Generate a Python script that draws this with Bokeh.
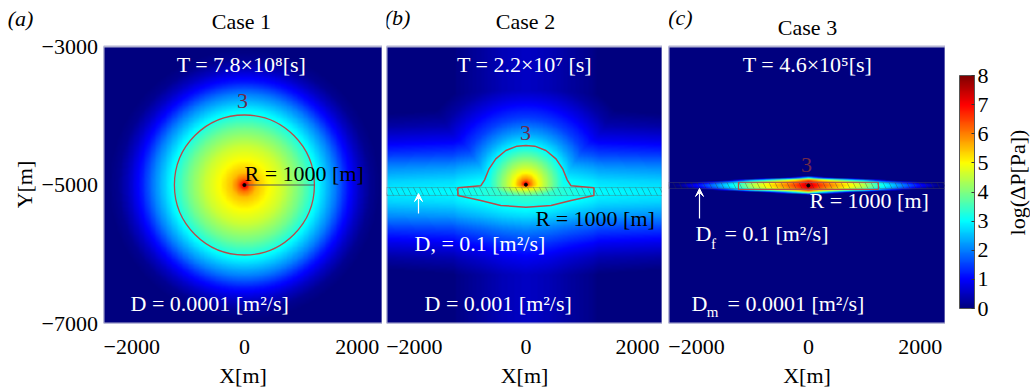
import numpy as np
from bokeh.plotting import figure
from bokeh.layouts import row
from bokeh.models import (Range1d, FixedTicker, LinearColorMapper, Label, Arrow, VeeHead, ColorBar)
from bokeh.embed import file_html
from bokeh.resources import INLINE

FONT = "Liberation Serif"
FS = "22px"

# ---------------- data ----------------
x_ticks = [-2000, 0, 2000]
x_tick_labels = ["−2000", "0", "2000"]
y_ticks = [-7000, -5000, -3000]
y_tick_labels = ["−7000", "−5000", "−3000"]
cbar_ticks = [0, 1, 2, 3, 4, 5, 6, 7, 8]
cbar_tick_labels = ["0", "1", "2", "3", "4", "5", "6", "7", "8"]

x_lim = [-2500, 2450]
y_lim = [-7000, -3000]
level_lim = [0, 8]

case_titles = ["Case 1", "Case 2", "Case 3"]
panel_tags = ["(a)", "(b)", "(c)"]
time_texts = ["T = 7.8×10⁸[s]", "T = 2.2×10⁷ [s]", "T = 4.6×10⁵[s]"]
contour_level_text = "3"
radius_text = "R = 1000 [m]"

source_x = [0, 0, 0]
source_y = [-5000, -4995, -5007]

# Case 1: radial profile of log(dP) (distance in units of the level-3 contour radius)
c1_rx, c1_ry = 1242, 1011
c1_r = [0.0, 0.03, 0.08, 0.18, 0.35, 0.55, 0.8, 1.0, 1.15, 1.3, 1.47, 1.65, 1.8, 1.95]
c1_lev = [8.0, 7.0, 6.2, 5.5, 5.0, 4.6, 3.9, 3.2, 2.6, 2.0, 1.2, 0.55, 0.15, 0.0]

# Case 2: matrix dome around the source + fault band
c2_src_sx, c2_src_sy_up, c2_src_sy_dn = 700, 563, 200
c2_src_r = [0.0, 0.04, 0.12, 0.3, 0.5, 0.75, 1.0, 1.3, 1.7, 2.2, 2.6, 3.0]
c2_src_lev = [8.0, 7.0, 6.0, 5.0, 4.4, 3.7, 3.0, 2.3, 1.5, 0.8, 0.3, 0.0]
c2_fault_y = -5100
c2_fx = [0, 400, 810, 1220, 1300, 2500]
c2_flev = [3.55, 3.45, 3.25, 3.08, 3.0, 2.9]
c2_dy = [0, 150, 350, 550, 750, 950, 1200]
c2_drop = [0.0, 0.25, 0.8, 1.5, 2.1, 2.6, 3.0]
c2_band = [-5152, -5036]
c2_contour_x = [-1220, -810, -740, -660, -540, -360, -160, 0, 160, 360, 540, 660, 740, 810, 1220,
                1220, 810, 450, 0, -450, -810, -1220]
c2_contour_y = [-5041, -5012, -4925, -4766, -4622, -4502, -4439, -4430, -4439, -4502, -4622, -4766, -4925, -5012, -5041,
                -5152, -5224, -5296, -5320, -5296, -5224, -5152]

# Case 3: thin fault only
c3_fault_y = -5007
c3_fx = [0, 200, 400, 700, 1000, 1300, 1700, 2000, 2300, 2500]
c3_flev = [7.5, 6.6, 6.0, 5.2, 4.5, 3.3, 2.0, 1.1, 0.3, 0.0]
c3_dy = [0, 40, 75, 105, 140]
c3_drop = [0.0, 0.3, 1.2, 3.5, 8.0]
c3_thickness = [1.0, 0.6]
c3_band = [-5050, -4964]
c3_contour = [-1250, 1250, -5065, -4960]

# ---------------- fields ----------------
nx, ny = 330, 440
gx = np.linspace(x_lim[0], x_lim[1], nx)
gy = np.linspace(y_lim[0], y_lim[1], ny)
X, Y = np.meshgrid(gx, gy)

r1 = np.sqrt((X / c1_rx) ** 2 + ((Y - source_y[0]) / c1_ry) ** 2)
Z1 = np.interp(r1, c1_r, c1_lev)

sy2 = np.where(Y > source_y[1], c2_src_sy_up, c2_src_sy_dn)
r2 = np.sqrt((X / c2_src_sx) ** 2 + ((Y - source_y[1]) / sy2) ** 2)
S2 = np.interp(r2, c2_src_r, c2_src_lev)
L2 = np.interp(np.abs(X), c2_fx, c2_flev) - np.interp(np.abs(Y - c2_fault_y), c2_dy, c2_drop)
Z2 = np.clip(np.maximum(S2, L2), 0, 8)

w3 = np.interp(np.abs(X), [0, x_lim[1]], c3_thickness)
Z3 = np.interp(np.abs(X), c3_fx, c3_flev) - np.interp(np.abs(Y - c3_fault_y) / w3, c3_dy, c3_drop)
Z3 = np.clip(Z3, 0, 8)

fields = [Z1.astype(np.float32), Z2.astype(np.float32), Z3.astype(np.float32)]

# jet palette
t = np.linspace(0, 1, 256)
jr = np.clip(1.5 - np.abs(4 * t - 3), 0, 1)
jg = np.clip(1.5 - np.abs(4 * t - 2), 0, 1)
jb = np.clip(1.5 - np.abs(4 * t - 1), 0, 1)
jet = ["#%02x%02x%02x" % (int(a * 255), int(b * 255), int(c * 255)) for a, b, c in zip(jr, jg, jb)]
mapper = LinearColorMapper(palette=jet, low=level_lim[0], high=level_lim[1])

CONTOUR = "#b84a4a"
LEVELTXT = "#6e2a4c"

# layout geometry: the panel box (-3000) sits 46 px below the top of each frame
FRAME_H = 323
TOP_PAD = 46
BOX_H = 277
y_view = [y_lim[0], y_lim[1] + TOP_PAD * (y_lim[1] - y_lim[0]) / BOX_H]


def lab(p, x, y, text, color="white", align="left", size=FS, style="normal", angle=0):
    p.add_layout(Label(x=x, y=y, text=text, text_font=FONT, text_font_size=size,
                       text_color=color, text_align=align, text_baseline="middle",
                       text_font_style=style, angle=angle))


def base_fig(frame_w, left_border, right_border, x_range, **kw):
    p = figure(frame_width=frame_w, frame_height=FRAME_H, x_range=x_range,
               y_range=Range1d(y_view[0], y_view[1]),
               min_border_left=left_border, min_border_right=right_border,
               min_border_top=0, min_border_bottom=66,
               toolbar_location=None, output_backend="svg", title=None, **kw)
    p.xgrid.visible = False
    p.ygrid.visible = False
    p.outline_line_color = None
    p.background_fill_color = "white"
    p.border_fill_color = "white"
    return p


def style_axis(ax):
    ax.axis_line_color = None
    ax.major_tick_line_color = None
    ax.minor_tick_line_color = None
    ax.major_tick_out = 0
    ax.major_tick_in = 0
    ax.major_label_text_font = FONT
    ax.major_label_text_font_size = FS
    ax.major_label_text_color = "black"
    ax.axis_label_text_font = FONT
    ax.axis_label_text_font_size = FS
    ax.axis_label_text_font_style = "normal"
    ax.axis_label_text_color = "black"


def make_panel(frame_w, left_border, i):
    p = base_fig(frame_w, left_border, 0, Range1d(x_lim[0], x_lim[1]),
                 y_axis_location=None)
    p.image(image=[fields[i]], x=x_lim[0], y=y_lim[0], dw=x_lim[1] - x_lim[0], dh=y_lim[1] - y_lim[0],
            color_mapper=mapper)
    p.quad(left=[x_lim[0]], right=[x_lim[1]], bottom=[y_lim[0]], top=[y_lim[1]],
           fill_color=None, line_color="#b4b4d4", line_width=2)
    xa = p.xaxis[0]
    style_axis(xa)
    xa.ticker = FixedTicker(ticks=x_ticks)
    xa.major_label_overrides = dict(zip(x_ticks, x_tick_labels))
    xa.axis_label = "X[m]"
    xa.major_label_standoff = 16
    xa.axis_label_standoff = 6
    return p


# ----- y-axis strip -----
p0 = base_fig(38, 0, 60, Range1d(0, 38), x_axis_location=None, y_axis_location="right")
ya0 = p0.yaxis[0]
style_axis(ya0)
ya0.ticker = FixedTicker(ticks=y_ticks)
ya0.major_label_overrides = dict(zip(y_ticks, y_tick_labels))
ya0.major_label_standoff = 3
lab(p0, 20, -2596, panel_tags[0], color="black", align="center", style="italic")
lab(p0, 24, -4993, "Y[m]", color="black", align="center", angle=np.pi / 2)

p1 = make_panel(279, 3, 0)
p2 = make_panel(276, 4, 1)
p3 = make_panel(277, 6, 2)

# ----- panel a -----
p1.ellipse(x=[source_x[0]], y=[source_y[0]], width=[2 * c1_rx], height=[2 * c1_ry],
           fill_color=None, line_color=CONTOUR, line_width=1.3)
p1.segment(x0=[source_x[0]], y0=[source_y[0]], x1=[source_x[0] + c1_rx], y1=[source_y[0]],
           line_color="#555555", line_width=1)
p1.scatter(x=[source_x[0]], y=[source_y[0]], size=3, color="black")
lab(p1, -52, -2639, case_titles[0], color="black", align="center")
lab(p1, -52, -3260, time_texts[0], align="center")
lab(p1, -34, -3780, contour_level_text, color=LEVELTXT, align="center")
lab(p1, 2, -4834, radius_text, color="black")
lab(p1, -2021, -6711, "D = 0.0001 [m²/s]")

# ----- panel b -----
p2.quad(left=[x_lim[0]], right=[x_lim[1]], bottom=[c2_band[0]], top=[c2_band[1]],
        fill_color=None, hatch_pattern="\\", hatch_color="#303030", hatch_alpha=0.4,
        hatch_scale=12, hatch_weight=0.8, line_color="#606060", line_alpha=0.4, line_width=0.8)
p2.patch(x=c2_contour_x, y=c2_contour_y, fill_color=None, line_color=CONTOUR, line_width=1.5)
p2.scatter(x=[source_x[1]], y=[source_y[1]], size=3, color="black")
lab(p2, -2303, -2581, panel_tags[1], color="black", align="center", style="italic")
lab(p2, -7, -2639, case_titles[1], color="black", align="center")
lab(p2, -25, -3260, time_texts[1], align="center")
lab(p2, -7, -4242, contour_level_text, color=LEVELTXT, align="center")
lab(p2, 172, -5484, radius_text, color="black")
lab(p2, -1998, -5845, "D, = 0.1 [m²/s]")
lab(p2, -1818, -6711, "D = 0.001 [m²/s]")
p2.add_layout(Arrow(end=VeeHead(size=8, fill_color="white", line_color="white"),
                    x_start=-1926, y_start=-5411, x_end=-1926, y_end=-5123,
                    line_color="white", line_width=1.2))

# ----- panel c -----
p3.quad(left=[x_lim[0]], right=[x_lim[1]], bottom=[c3_band[0]], top=[c3_band[1]],
        fill_color=None, hatch_pattern="\\", hatch_color="#303030", hatch_alpha=0.4,
        hatch_scale=12, hatch_weight=0.8, line_color="#606060", line_alpha=0.4, line_width=0.8)
p3.quad(left=[c3_contour[0]], right=[c3_contour[1]], bottom=[c3_contour[2]], top=[c3_contour[3]],
        fill_color=None, line_color=CONTOUR, line_width=1.2)
p3.scatter(x=[source_x[2]], y=[source_y[2]], size=3, color="black")
lab(p3, -2286, -2581, panel_tags[2], color="black", align="center", style="italic")
lab(p3, -16, -2726, case_titles[2], color="black", align="center")
lab(p3, -16, -3260, time_texts[2], align="center")
lab(p3, -34, -4718, contour_level_text, color=LEVELTXT, align="center")
lab(p3, 20, -5224, radius_text)
lab(p3, -2017, -5700, "D")
lab(p3, -1696, -5845, "f", align="center", size="15px")
lab(p3, -1499, -5700, "= 0.1 [m²/s]")
lab(p3, -2089, -6711, "D")
lab(p3, -1714, -6841, "m", align="center", size="15px")
lab(p3, -1446, -6711, "= 0.0001 [m²/s]")
p3.add_layout(Arrow(end=VeeHead(size=8, fill_color="white", line_color="white"),
                    x_start=-1946, y_start=-5484, x_end=-1946, y_end=-5050,
                    line_color="white", line_width=1.2))

# ----- colour bar -----
p4 = base_fig(87, 0, 0, Range1d(0, 87), x_axis_location=None, y_axis_location=None)
cb = ColorBar(color_mapper=mapper, ticker=FixedTicker(ticks=cbar_ticks),
              major_label_overrides=dict(zip(cbar_ticks, cbar_tick_labels)),
              width=15, height=233, location=(14, 15), margin=0, padding=0,
              bar_line_color="#555555", major_tick_line_color="#333333",
              major_tick_in=3, major_tick_out=0, minor_tick_line_color=None,
              label_standoff=3, major_label_text_font=FONT, major_label_text_font_size=FS,
              major_label_text_color="black", background_fill_color=None, border_line_color=None)
p4.add_layout(cb)
lab(p4, 72, -4964, "log(ΔP[Pa])", color="black", align="center", angle=np.pi / 2)

layout = row(p0, p1, p2, p3, p4)
open("out.html", "w").write(file_html(layout, INLINE))
